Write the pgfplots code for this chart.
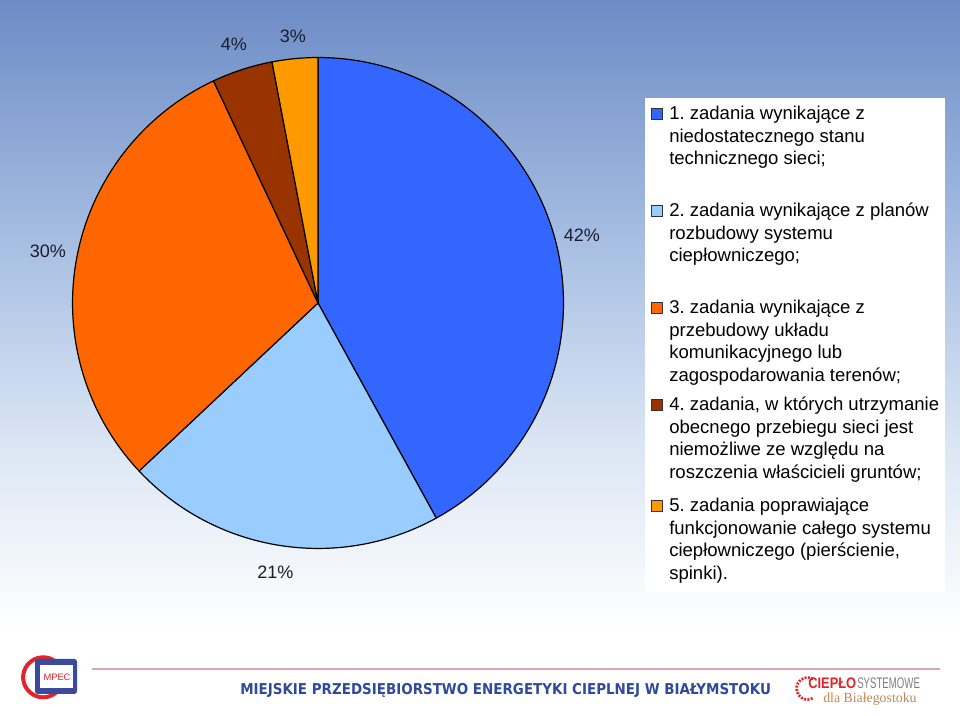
\documentclass[border=0pt]{standalone}
\usepackage{pgfplots}
\pgfplotsset{compat=1.18}
\usepackage{fontspec}
\setmainfont{Liberation Sans}
\newfontfamily\footfont{DejaVu Sans Condensed}
\newfontfamily\logoserif{Liberation Serif}
\definecolor{sliceA}{HTML}{3366FF}
\definecolor{sliceB}{HTML}{99CCFF}
\definecolor{sliceC}{HTML}{FF6600}
\definecolor{sliceD}{HTML}{993300}
\definecolor{sliceE}{HTML}{FF9900}
\definecolor{skyA}{HTML}{6D8CC6}
\definecolor{skyB}{HTML}{A9C0E3}
\definecolor{skyC}{HTML}{DCE7F4}
\definecolor{labtxt}{HTML}{1C1C2C}
\definecolor{footblue}{HTML}{2E4A9A}
\definecolor{footline}{HTML}{D8A6B6}
\definecolor{logored}{HTML}{E0242A}
\definecolor{logoblue}{HTML}{3A4A9C}
\definecolor{logobrown}{HTML}{C08850}
% pie shares (percent)
\def\vA{42}\def\vB{21}\def\vC{30}\def\vD{4}\def\vE{3}
\begin{document}
\frenchspacing
\begin{tikzpicture}[x=0.75pt,y=0.75pt]
\useasboundingbox (0,0) rectangle (960,716);
\fill[white] (0,0) rectangle (960,716);
\shade[top color=skyA, bottom color=skyB] (0,466) rectangle (960,716);
\shade[top color=skyB, bottom color=skyC] (0,266) rectangle (960,466.5);
\shade[top color=skyC, bottom color=white] (0,86) rectangle (960,266.5);
% angles
\pgfmathsetmacro\aA{90}
\pgfmathsetmacro\aB{\aA-3.6*\vA}
\pgfmathsetmacro\aC{\aB-3.6*\vB}
\pgfmathsetmacro\aD{\aC-3.6*\vC}
\pgfmathsetmacro\aE{\aD-3.6*\vD}
\pgfmathsetmacro\aF{\aE-3.6*\vE}
\pgfmathsetmacro\mA{(\aA+\aB)/2}
\pgfmathsetmacro\mB{(\aB+\aC)/2}
\pgfmathsetmacro\mC{(\aC+\aD)/2}
\pgfmathsetmacro\mD{(\aD+\aE)/2}
\pgfmathsetmacro\mE{(\aE+\aF)/2}
\begin{axis}[at={(238.5pt,309.75pt)}, anchor=center,
  x=184.1pt, y=184.1pt, xmin=-1.2, xmax=1.2, ymin=-1.2, ymax=1.2,
  hide axis, clip=false]
\filldraw[fill=sliceA, draw=black, line width=0.9pt, line join=round] (axis cs:0,0) -- (axis cs:{cos(\aA)},{sin(\aA)}) arc[start angle=\aA, end angle=\aB, radius=184.1pt] -- cycle;
\filldraw[fill=sliceB, draw=black, line width=0.9pt, line join=round] (axis cs:0,0) -- (axis cs:{cos(\aB)},{sin(\aB)}) arc[start angle=\aB, end angle=\aC, radius=184.1pt] -- cycle;
\filldraw[fill=sliceC, draw=black, line width=0.9pt, line join=round] (axis cs:0,0) -- (axis cs:{cos(\aC)},{sin(\aC)}) arc[start angle=\aC, end angle=\aD, radius=184.1pt] -- cycle;
\filldraw[fill=sliceD, draw=black, line width=0.9pt, line join=round] (axis cs:0,0) -- (axis cs:{cos(\aD)},{sin(\aD)}) arc[start angle=\aD, end angle=\aE, radius=184.1pt] -- cycle;
\filldraw[fill=sliceE, draw=black, line width=0.9pt, line join=round] (axis cs:0,0) -- (axis cs:{cos(\aE)},{sin(\aE)}) arc[start angle=\aE, end angle=\aF, radius=184.1pt] -- cycle;
\begin{scope}[every node/.style={font=\fontsize{13.5}{16}\selectfont, text=labtxt}]
\node at (axis cs:{1.11*cos(\mA)},{1.11*sin(\mA)}) {\vA\%};
\node at (axis cs:{1.11*cos(\mB)},{1.11*sin(\mB)}) {\vB\%};
\node at (axis cs:{1.12*cos(\mC)},{1.12*sin(\mC)}) {\vC\%};
\node at (axis cs:{1.11*cos(\mD)},{1.11*sin(\mD)}) {\vD\%};
\node at (axis cs:{1.09*cos(\mE)},{1.09*sin(\mE)}) {\vE\%};
\end{scope}
\end{axis}
% legend box
\fill[white] (645,618) rectangle (945,124);
\begin{scope}[every node/.style={anchor=base west, inner sep=0pt, align=left, font=\fontsize{13.9}{16.9}\selectfont}]
\node at (669,551) {1. zadania wynikające z\\niedostatecznego stanu\\technicznego sieci;};
\node at (669,454) {2. zadania wynikające z planów\\rozbudowy systemu\\ciepłowniczego;};
\node at (669,334.5) {3. zadania wynikające z\\przebudowy układu\\komunikacyjnego lub\\zagospodarowania terenów;};
\node at (669,237.5) {4. zadania, w których utrzymanie\\obecnego przebiegu sieci jest\\niemożliwe ze względu na\\roszczenia właścicieli gruntów;};
\node at (669,136.5) {5. zadania poprawiające\\funkcjonowanie całego systemu\\ciepłowniczego (pierścienie,\\spinki).};
\end{scope}
\filldraw[fill=sliceA, draw=black!80, line width=0.5pt] (651,597) rectangle (662,608);
\filldraw[fill=sliceB, draw=black!80, line width=0.5pt] (651,500) rectangle (662,511);
\filldraw[fill=sliceC, draw=black!80, line width=0.5pt] (651,403) rectangle (662,414);
\filldraw[fill=sliceD, draw=black!80, line width=0.5pt] (651,306) rectangle (662,317);
\filldraw[fill=sliceE, draw=black!80, line width=0.5pt] (651,205) rectangle (662,216);
% footer
\draw[footline, line width=1pt] (92,47) -- (940,47);
\node[anchor=base west, inner sep=0pt, text=footblue] at (240,21) {\resizebox{398pt}{!}{\footfont\bfseries MIEJSKIE PRZEDSIĘBIORSTWO ENERGETYKI CIEPLNEJ W BIAŁYMSTOKU}};
% MPEC logo
\draw[logored, line width=3pt] (56,54) arc[start angle=50, end angle=310, radius=20];
\fill[logoblue, rounded corners=2pt] (35,22) rectangle (77,57);
\fill[white] (40,28) rectangle (73,51);
\node[text=logored, font=\fontsize{7}{7}\selectfont] at (57,39) {MPEC};
% right logo
\draw[logored, line width=2pt, dash pattern=on 1.5pt off 1pt] (813,37) arc[start angle=60, end angle=300, radius=11];
\node[anchor=base west, inner sep=0pt, text=logored] at (808,27) {\resizebox{36pt}{8pt}{\bfseries CIEPŁO}};
\node[anchor=base west, inner sep=0pt, text=gray] at (857,27) {\resizebox{47pt}{8pt}{SYSTEMOWE}};
\node[anchor=base west, inner sep=0pt, text=logobrown] at (823,13) {\resizebox{70pt}{!}{\logoserif dla Białegostoku}};
\end{tikzpicture}
\end{document}
